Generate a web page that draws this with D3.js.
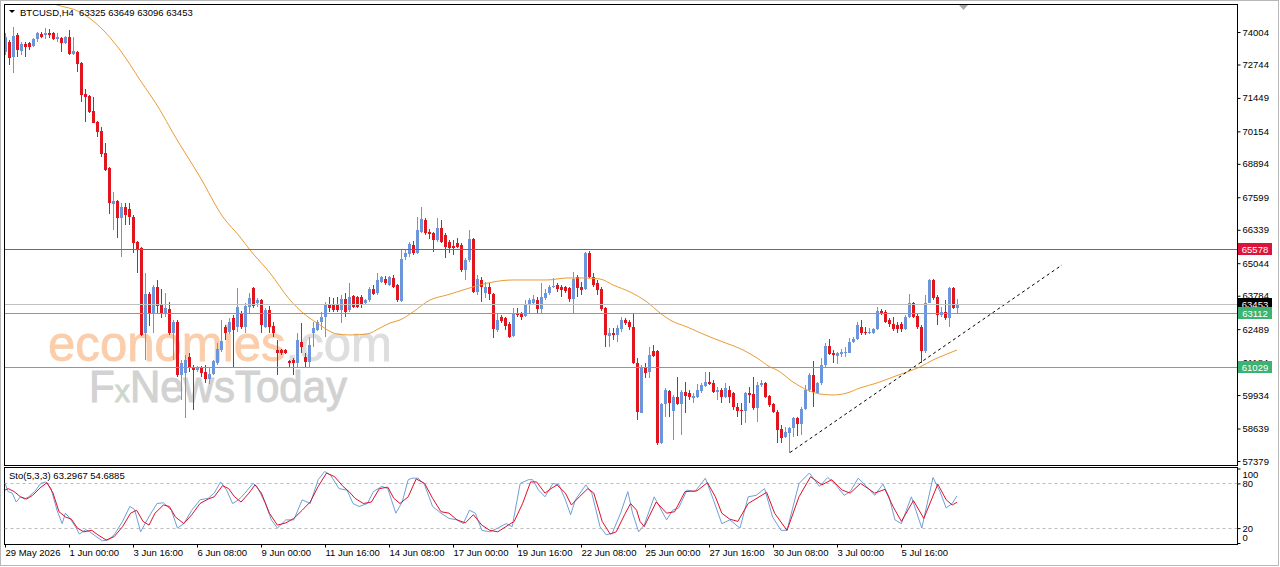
<!DOCTYPE html>
<html lang="en">

<head>
    <meta charset="UTF-8" />
    <title>BTCUSD, H4</title>
    <script src="https://d3js.org/d3.v7.min.js"></script>
    <style>
        body {
            margin: 0;
            background-color: #ffffff;
        }

        svg text {
            font-family: "Liberation Sans", Arial, sans-serif;
        }
    </style>
</head>

<body>
    <svg id="chart" width="1280" height="567"></svg>

    <script>
        // [open, high, low, close] per H4 bar
        const candles = [
            [73229, 73965, 73113, 73810], [73616, 73694, 72725, 72996], [73035, 74198, 72415, 73849], [73888, 73965, 73035, 73306],
            [73268, 73616, 73113, 73539], [73539, 73616, 73035, 73423], [73578, 73616, 73306, 73423], [73461, 73771, 73423, 73733],
            [73733, 74004, 73616, 73965], [73926, 74004, 73771, 73810], [73888, 74159, 73733, 73965], [73965, 74120, 73771, 73888],
            [73965, 74004, 73694, 73733], [73733, 73965, 73616, 73810], [73771, 73810, 73229, 73578], [73578, 73849, 73539, 73810],
            [73810, 74081, 73113, 73151], [73151, 73810, 73113, 73268], [73229, 73268, 72454, 72764], [72803, 72841, 71291, 71563],
            [71601, 71795, 70516, 71485], [71524, 71563, 70865, 70904], [70943, 71485, 70478, 70478], [70516, 70555, 69935, 70129],
            [70168, 70323, 69160, 69277], [69316, 69703, 68616, 68655], [68732, 68771, 66951, 67378], [67339, 67804, 66331, 67455],
            [67455, 67494, 66021, 66796], [66796, 67378, 65285, 67223], [67223, 67378, 66525, 66913], [67145, 67378, 66525, 66835],
            [66835, 66913, 65440, 65828], [65866, 65905, 64665, 65556], [65634, 65673, 62224, 62263], [62340, 64665, 61294, 63851],
            [63851, 63929, 62611, 63116], [63116, 64200, 62340, 64123], [64123, 64394, 63116, 63387], [63426, 64045, 62921, 63116],
            [63116, 63890, 62960, 63309], [63271, 63541, 62263, 62340], [62340, 62844, 61294, 62766], [62766, 62844, 60635, 60713],
            [60713, 61294, 59744, 61178], [60790, 61488, 59046, 61294], [61410, 61565, 60829, 60984], [61023, 61100, 59356, 60906],
            [60906, 61060, 60829, 60984], [60984, 61060, 60635, 60790], [60829, 61100, 60403, 60558], [60558, 60984, 60364, 60751],
            [60751, 61294, 60713, 61255], [61178, 61953, 61100, 61720], [61681, 62844, 61604, 62030], [62573, 62650, 62069, 62340],
            [62379, 62921, 62301, 62766], [62921, 63038, 61023, 62456], [62573, 64084, 62379, 63348], [63116, 63193, 62495, 62573],
            [62573, 63503, 62340, 63387], [63348, 63890, 63116, 63696], [64084, 64123, 63309, 63387], [63503, 63696, 63348, 63619],
            [63619, 63658, 62340, 62650], [62573, 63309, 62534, 63232], [63232, 63387, 62340, 62573], [62611, 62766, 62185, 62340],
            [61681, 62069, 60713, 61565], [61681, 61720, 61488, 61565], [61681, 61720, 61526, 61565], [61255, 61294, 60984, 61178],
            [61294, 61371, 60713, 61178], [61178, 62340, 61023, 62069], [61991, 62728, 61565, 61798], [61410, 61565, 61023, 61216],
            [61216, 62185, 60984, 61875], [62340, 62766, 61798, 62534], [62456, 62844, 62418, 62766], [62766, 63154, 62456, 62960],
            [62960, 63541, 62185, 63464], [63464, 63735, 63154, 63309], [63426, 63696, 63154, 63232], [63426, 63735, 63154, 63232],
            [63232, 63813, 62728, 63658], [63658, 63890, 62960, 63154], [63232, 64278, 63154, 63735], [63774, 63813, 63309, 63348],
            [63735, 63774, 63309, 63348], [63735, 63813, 63309, 63426], [63503, 63658, 63426, 63619], [63619, 64123, 63541, 64045],
            [64045, 64200, 63813, 63851], [63890, 64665, 63813, 64394], [64316, 64549, 64278, 64510], [64433, 64549, 64200, 64278],
            [64200, 64549, 64161, 64510], [64471, 64588, 64084, 64123], [64200, 64239, 63541, 63619], [63580, 65556, 63541, 65208],
            [65285, 65595, 65169, 65440], [65401, 65866, 65285, 65789], [65750, 65905, 65363, 65440], [65440, 66835, 65401, 66331],
            [66254, 67223, 66215, 66758], [66719, 66796, 66138, 66215], [66254, 66370, 65983, 66176], [66215, 66254, 65479, 65944],
            [65944, 66796, 65866, 66409], [66409, 66719, 65828, 65866], [66138, 66215, 65246, 65673], [65866, 65944, 65440, 65634],
            [65711, 65944, 65363, 65634], [65828, 66021, 65634, 65673], [65750, 65828, 64704, 64781], [64781, 65246, 64394, 65169],
            [65169, 66331, 65091, 65983], [65983, 66021, 63890, 63929], [63929, 64588, 63813, 64433], [64394, 64510, 63541, 64123],
            [63890, 64316, 63696, 64123], [64123, 64278, 63619, 63851], [63851, 63890, 62146, 62495], [62456, 63116, 62379, 62844],
            [62960, 63038, 62728, 62805], [62921, 62960, 62456, 62611], [62689, 62766, 62146, 62185], [62224, 63309, 62185, 63116],
            [63116, 63309, 62960, 63038], [63116, 63154, 62844, 62960], [62999, 63619, 62960, 63464], [63464, 63696, 63116, 63619],
            [63503, 63813, 63426, 63658], [63619, 63735, 63116, 63271], [63271, 64278, 63116, 63735], [63696, 64045, 63619, 63890],
            [63890, 64200, 63813, 64123], [64123, 64471, 64084, 64161], [64200, 64278, 63929, 64045], [64123, 64200, 63735, 64006],
            [64123, 64161, 63890, 63968], [64084, 64123, 63541, 63658], [63658, 64704, 63116, 64433], [64510, 64588, 63735, 64084],
            [64123, 64316, 63813, 64006], [64045, 65479, 64006, 65440], [65440, 65518, 64471, 64510], [64510, 64665, 64123, 64200],
            [64278, 64394, 63813, 64006], [64045, 64123, 63193, 63271], [63309, 63348, 61798, 62263], [62224, 62534, 61798, 62340],
            [62340, 62534, 62069, 62263], [62263, 62650, 61991, 62534], [62495, 62960, 62379, 62844], [62844, 62921, 62650, 62728],
            [62766, 62844, 62456, 62573], [62573, 63116, 61139, 61178], [61178, 61371, 58969, 59279], [59240, 61100, 59240, 61023],
            [61023, 61178, 60596, 60790], [60829, 61798, 60596, 61488], [61643, 61875, 61410, 61449], [61643, 61681, 58000, 58078],
            [58078, 59628, 58039, 59589], [59589, 60209, 59085, 60131], [60093, 60131, 59085, 59628], [59318, 59938, 58194, 59860],
            [59860, 60635, 59550, 59589], [59589, 60131, 58388, 60054], [60054, 60441, 59240, 59899], [60015, 60131, 59744, 59860],
            [59821, 60015, 59628, 59899], [59860, 60364, 59821, 60131], [60093, 60403, 60015, 60325], [60286, 60829, 60248, 60441],
            [60441, 60829, 60325, 60364], [60403, 60519, 60015, 60054], [60054, 60248, 59744, 60131], [60131, 60209, 59628, 59860],
            [59860, 60403, 59821, 60209], [60131, 60286, 59628, 59860], [60015, 60054, 59356, 59473], [59473, 59628, 59085, 59318],
            [59356, 59628, 58775, 59318], [59318, 60054, 58853, 60015], [60015, 60248, 59628, 59938], [59976, 60635, 59356, 59434],
            [59434, 60441, 58891, 60325], [60325, 60519, 60248, 60403], [60403, 60441, 59821, 59860], [59899, 59938, 59473, 59550],
            [59589, 59628, 59240, 59279], [59279, 59356, 58078, 58581], [58620, 58775, 58078, 58271], [58310, 58698, 58271, 58504],
            [58465, 58698, 57690, 58659], [58659, 59085, 58310, 59046], [59046, 59085, 58349, 58814], [58814, 59473, 58388, 59395],
            [59395, 60325, 59356, 60131], [60131, 60790, 60054, 60713], [60713, 61255, 59473, 60054], [60015, 60441, 59976, 60403],
            [60403, 61371, 60325, 61100], [61100, 61953, 61023, 61836], [61836, 62108, 61488, 61526], [61565, 61681, 61178, 61488],
            [61449, 61604, 61139, 61565], [61526, 61720, 61410, 61604], [61565, 61798, 61410, 61604], [61565, 62146, 61565, 61991],
            [61991, 62185, 61953, 62108], [62108, 62766, 62069, 62650], [62573, 62844, 62263, 62340], [62379, 62573, 62263, 62340],
            [62340, 62534, 62301, 62379], [62340, 62534, 62301, 62495], [62495, 63348, 62456, 63193], [63193, 63271, 63038, 63116],
            [63154, 63232, 62728, 62766], [62844, 62921, 62573, 62689], [62689, 62960, 62418, 62495], [62650, 62766, 62340, 62495],
            [62689, 62766, 62379, 62495], [62495, 63038, 62456, 62960], [62960, 63851, 62921, 63503], [63503, 63541, 62921, 62960],
            [62999, 63116, 62495, 62573], [62573, 62650, 61178, 61643], [61643, 63813, 61565, 63503], [63503, 64433, 63503, 64394],
            [64394, 64433, 63619, 63696], [63735, 63813, 62650, 63038], [63038, 63348, 62960, 63154], [63154, 63619, 62844, 62921],
            [62921, 64123, 62573, 64084], [64084, 64123, 63271, 63309], [63325, 63649, 63096, 63453]
        ];

        // moving average: [bar, price]
        const maPoints = [
            [10, 75200], [13, 75050], [18.75, 74779], [23.75, 74198], [28.75, 73306], [33.75, 72144], [38.75, 70981],
            [42, 70090], [48.75, 68385], [54.5, 66835], [58.75, 66060], [61.25, 65556], [66.25, 64665], [71.25, 63619],
            [74.5, 63116], [78, 62728], [83, 62301], [86.25, 62263], [90.5, 62301], [93.75, 62534], [96.25, 62728],
            [98.75, 62844], [102, 63154], [106.25, 63619], [110.5, 63813], [114.5, 64006], [118.75, 64200], [122, 64316],
            [127, 64394], [135.5, 64394], [140.5, 64471], [144.5, 64471], [148.75, 64433], [152, 64200], [156.25, 63929],
            [160.5, 63541], [163.75, 63116], [166.25, 62844], [170.5, 62573], [176.25, 62185], [179.5, 61991], [184.5, 61681],
            [188, 61371], [191.25, 61023], [193, 60906], [197, 60441], [200.5, 60131], [203.75, 59976], [207, 59938],
            [210.5, 60015], [213.75, 60209], [218, 60403], [222, 60635], [225.5, 60829], [228.75, 61023], [232, 61294],
            [235.5, 61526], [238, 61681]
        ];

        // Stochastic(5,3,3) main (%K) and signal (%D): [bar, value]
        const stochK = [
            [0, 80], [0.8, 69], [1.8, 67], [2.8, 55], [3.85, 62], [4.9, 59], [5.9, 62], [7.4, 69], [8.95, 80], [10.2, 82],
            [11.5, 73], [13, 44], [14.3, 26], [15.1, 40], [16.1, 34], [17.6, 22], [18.6, 12], [20.2, 18], [21.2, 15], [22.7, 9],
            [24.3, 3], [25.8, 4], [27.3, 11], [29.4, 29], [31.2, 49], [32.4, 45], [33.9, 15], [35, 26], [36.5, 40], [38, 53],
            [39.6, 54], [41.6, 44], [43.1, 20], [44.7, 26], [46.7, 44], [48.75, 58], [50.8, 60], [52.3, 67], [53.9, 82], [55.4, 71],
            [56.9, 53], [58.4, 58], [60, 67], [62, 80], [63, 76], [65.1, 53], [66.6, 31], [68.1, 20], [70.2, 31], [72.2, 31],
            [74.3, 58], [76.3, 53], [78.3, 85], [79.9, 96], [81.4, 91], [83.5, 73], [85.5, 71], [87, 53], [88.5, 49], [90.6, 53],
            [92.1, 69], [94.2, 76], [95.7, 73], [97.7, 40], [99.3, 55], [100.8, 85], [101.8, 87], [103.3, 87], [104.9, 78], [106.9, 49],
            [109, 40], [111, 33], [113, 31], [114.6, 26], [116.1, 44], [117.6, 40], [119.2, 17], [121.2, 15], [123.2, 20], [125.3, 26],
            [126.8, 22], [128.8, 80], [130.9, 85], [131.9, 85], [133.4, 71], [135, 62], [137, 80], [138.5, 78], [140.1, 58], [141.4, 38],
            [142.6, 58], [145.2, 78], [146.7, 67], [148.75, 22], [150.3, 11], [151.8, 13], [153.9, 40], [155.7, 69], [156.9, 40], [158.4, 15],
            [159.8, 24], [162.3, 62], [165.4, 31], [166.9, 44], [168.4, 47], [170.5, 71], [172.5, 69], [175.1, 87], [177.1, 58], [179.2, 26],
            [181.2, 31], [183.75, 20], [185.8, 62], [187.8, 64], [189.9, 73], [191.9, 35], [194, 17], [195.5, 17], [198.5, 80], [201.1, 94],
            [203.6, 76], [205.7, 88], [207.7, 78], [209.8, 64], [211.3, 69], [213.3, 87], [215.4, 76], [217.4, 64], [219.5, 79], [221, 62],
            [222.5, 31], [224.1, 26], [226.6, 62], [229.2, 20], [232, 88], [233.75, 69], [235.3, 47], [236.8, 53], [238, 63.2967]
        ];
        const stochD = [
            [0, 71], [0.8, 73], [2.3, 69], [3.85, 62], [5.4, 59], [6.9, 64], [9, 75], [10.5, 81], [12, 67], [13.5, 42],
            [15.1, 35], [16.6, 32], [18.1, 20], [19.7, 15], [21.7, 17], [23.2, 11], [25.3, 4], [27.3, 8.5], [29.4, 22], [31.4, 40],
            [32.9, 44], [34.5, 29], [36, 24], [37.5, 40], [39.6, 51], [41.1, 49], [42.6, 35], [44.7, 26], [46.7, 38], [48.75, 53],
            [50.8, 59], [52.3, 62], [54.4, 77], [55.9, 73], [57.4, 62], [59, 55], [61, 67], [62.5, 78], [64.1, 67], [66.1, 40],
            [68.1, 24], [70.2, 27], [72.2, 33], [74.3, 44], [76.3, 55], [78.3, 76], [80.4, 94], [82.4, 89], [84.5, 76], [86, 69],
            [87.5, 60], [89.6, 53], [91.6, 55], [93.6, 73], [95.7, 75], [97.2, 60], [98.75, 53], [100.8, 62], [102.8, 86], [104.9, 80],
            [106.9, 60], [109, 42], [111, 40], [113, 31], [115.1, 27], [117.1, 38], [119.2, 24], [121.2, 17], [123.2, 15], [125.8, 24],
            [127.3, 29], [129.4, 53], [131.4, 82], [132.9, 82], [135, 67], [136.5, 73], [138, 78], [140.1, 67], [141.6, 51], [143.6, 62],
            [145.7, 73], [147.2, 67], [149.3, 29], [151.3, 12], [152.8, 15], [154.9, 38], [156.4, 53], [157.9, 44], [158.75, 29], [159.8, 22],
            [162.8, 55], [165.4, 40], [167.4, 42], [170, 69], [173, 70], [175.6, 81], [177.6, 62], [179.2, 40], [181.2, 32], [183.2, 29],
            [185.8, 53], [190.4, 68], [192.4, 40], [195.5, 17], [198.5, 62], [201.4, 89], [204.2, 78], [206.7, 85], [209.3, 71], [211.3, 67],
            [213.9, 80], [217.4, 67], [220, 72], [222, 49], [224.1, 29], [227.1, 57], [229.7, 33], [233.2, 79], [235.3, 58], [236.8, 51],
            [238, 54.6885]
        ];

        const priceTicks = [74004, 72744, 71449, 70154, 68894, 67599, 66339, 65044, 63784, 62489, 61184, 59934, 58639, 57379];
        const stochTicks = [100, 80, 20, 0];
        const stochLevels = [80, 20];
        const dateLabels = ["29 May 2026", "1 Jun 00:00", "3 Jun 16:00", "6 Jun 08:00", "9 Jun 00:00", "11 Jun 16:00",
            "14 Jun 08:00", "17 Jun 00:00", "19 Jun 16:00", "22 Jun 08:00", "25 Jun 00:00", "27 Jun 16:00",
            "30 Jun 08:00", "3 Jul 00:00", "5 Jul 16:00"];
        const dateBars = [0, 16, 32, 48, 64, 80, 96, 112, 128, 144, 160, 176, 192, 208, 224];
        const resistance = 65578;
        const supports = [63112, 61029];
        const lastPrice = 63453;
        const trendLine = [[196.25, 57709], [264.25, 64975]];
        const header = { symbol: "BTCUSD,H4", ohlc: [63325, 63649, 63096, 63453] };

        const bullColor = "#6b96dc";
        const bearColor = "#e0151d";

        const svg = d3.select("#chart");
        const panel = { left: 4.5, right: 1237.5, top: 4.5, bottom: 465.5, subTop: 467.5, subBottom: 544.5 };

        const x = d3.scaleLinear().domain([0, 238]).range([5, 957]);
        const y = d3.scaleLinear().domain([57379, 74004]).range([461, 32]);
        const ys = d3.scaleLinear().domain([0, 100]).range([543, 468.5]);

        const defs = svg.append("defs");
        defs.append("clipPath").attr("id", "clip-main").append("rect")
            .attr("x", panel.left).attr("y", panel.top)
            .attr("width", panel.right - panel.left).attr("height", panel.bottom - panel.top);
        defs.append("clipPath").attr("id", "clip-sub").append("rect")
            .attr("x", panel.left).attr("y", panel.subTop)
            .attr("width", panel.right - panel.left).attr("height", panel.subBottom - panel.subTop);

        // outer frame
        svg.append("rect").attr("x", 0.5).attr("y", 0.5).attr("width", 1278).attr("height", 565)
            .attr("fill", "#fff").attr("stroke", "#b8b8b8");

        // watermark
        const wm = svg.append("g");
        const wm1 = wm.append("text").attr("x", 48).attr("y", 361)
            .attr("font-size", 50).attr("textLength", 344).attr("lengthAdjust", "spacingAndGlyphs");
        wm1.append("tspan").attr("fill", "#fbcdaa").attr("stroke", "#fbcdaa").attr("stroke-width", 0.8).text("economies");
        wm1.append("tspan").attr("fill", "#dedede").attr("stroke", "#dedede").attr("stroke-width", 0.8).text(".com");
        const wm2 = wm.append("text").attr("x", 89).attr("y", 402)
            .attr("font-size", 44).attr("textLength", 258).attr("lengthAdjust", "spacingAndGlyphs")
            .attr("stroke-width", 1);
        wm2.append("tspan").attr("fill", "#d2d2d2").attr("stroke", "#d2d2d2").text("F");
        wm2.append("tspan").attr("fill", "#cdd8cd").attr("stroke", "#cdd8cd").attr("font-size", 32).text("x");
        wm2.append("tspan").attr("fill", "#d2d2d2").attr("stroke", "#d2d2d2").text("NewsToday");

        const plot = svg.append("g").attr("clip-path", "url(#clip-main)");

        // candles
        const bars = candles.map((c, i) => ({ i, o: c[0], h: c[1], l: c[2], c: c[3] }));
        const candleG = plot.append("g").attr("shape-rendering", "crispEdges");
        candleG.selectAll(".wick")
            .data(bars)
            .enter().append("line")
            .attr("class", "wick")
            .attr("x1", d => Math.round(x(d.i)) + 0.5)
            .attr("x2", d => Math.round(x(d.i)) + 0.5)
            .attr("y1", d => y(d.h))
            .attr("y2", d => y(d.l))
            .attr("stroke", d => d.c >= d.o ? bullColor : bearColor);
        candleG.selectAll(".body")
            .data(bars)
            .enter().append("rect")
            .attr("class", "body")
            .attr("x", d => Math.round(x(d.i)) - 1)
            .attr("width", 3)
            .attr("y", d => y(Math.max(d.o, d.c)))
            .attr("height", d => Math.max(1, Math.abs(y(d.o) - y(d.c))))
            .attr("fill", d => d.c >= d.o ? bullColor : bearColor);

        // moving average
        plot.append("path")
            .datum(maPoints)
            .attr("fill", "none")
            .attr("stroke", "#e99b35")
            .attr("stroke-width", 1)
            .attr("d", d3.line().x(d => x(d[0])).y(d => y(d[1])).curve(d3.curveMonotoneX));

        // trend line
        plot.append("line")
            .attr("x1", x(trendLine[0][0])).attr("y1", y(trendLine[0][1]))
            .attr("x2", x(trendLine[1][0])).attr("y2", y(trendLine[1][1]))
            .attr("stroke", "#000").attr("stroke-width", 1).attr("stroke-dasharray", "3,3");

        // panel borders
        svg.append("rect")
            .attr("x", panel.left).attr("y", panel.top)
            .attr("width", panel.right - panel.left).attr("height", panel.bottom - panel.top)
            .attr("fill", "none").attr("stroke", "#000");
        svg.append("rect")
            .attr("x", panel.left).attr("y", panel.subTop)
            .attr("width", panel.right - panel.left).attr("height", panel.subBottom - panel.subTop)
            .attr("fill", "none").attr("stroke", "#000");

        // horizontal levels
        const levels = [
            { v: lastPrice, color: "#c0c0c0" },
            { v: resistance, color: "#e8305c" },
            ...supports.map(v => ({ v, color: "#43c47e" }))
        ];
        svg.append("g").attr("shape-rendering", "crispEdges")
            .selectAll(".level")
            .data(levels)
            .enter().append("line")
            .attr("class", "level")
            .attr("x1", panel.left + 0.5)
            .attr("x2", panel.right - 0.5)
            .attr("y1", d => Math.round(y(d.v)) + 0.5)
            .attr("y2", d => Math.round(y(d.v)) + 0.5)
            .attr("stroke", d => d.color)
            .attr("stroke-width", 1);

        // chart shift marker
        svg.append("path").attr("d", "M959,5L968,5L963.5,10Z").attr("fill", "#a8a8a8");

        // header
        svg.append("path").attr("d", "M9,10L15,10L12,13Z").attr("fill", "#000");
        svg.append("text").attr("x", 20).attr("y", 16)
            .attr("font-size", 9.5).attr("fill", "#000").style("white-space", "pre")
            .text(`${header.symbol}  ${header.ohlc.join(" ")}`);

        // price axis
        svg.append("g")
            .attr("transform", `translate(${panel.right},0)`)
            .call(d3.axisRight(y).tickValues(priceTicks).tickSize(3).tickFormat(d3.format("d")))
            .call(g => g.select(".domain").remove())
            .call(g => g.selectAll("line").attr("stroke", "#000"))
            .call(g => g.selectAll("text").attr("x", 5).attr("font-size", 9.5).attr("fill", "#000")
                .style("font-family", "'Liberation Sans', Arial, sans-serif"));

        // price tags
        const tag = (v, bg) => {
            const yy = Math.round(y(v));
            svg.append("rect").attr("x", panel.right + 0.5).attr("y", yy - 6)
                .attr("width", 34).attr("height", 12).attr("fill", bg);
            svg.append("text").attr("x", panel.right + 17.5).attr("y", yy + 3.5)
                .attr("text-anchor", "middle").attr("font-size", 9.5).attr("fill", "#fff").text(v);
        };
        tag(lastPrice, "#000");
        supports.forEach(v => tag(v, "#3cb371"));
        tag(resistance, "#dc143c");

        // stochastic sub-window
        const sub = svg.append("g").attr("clip-path", "url(#clip-sub)");
        stochLevels.forEach(v => {
            sub.append("line")
                .attr("x1", panel.left).attr("x2", panel.right)
                .attr("y1", Math.round(ys(v)) + 0.5).attr("y2", Math.round(ys(v)) + 0.5)
                .attr("stroke", "#bdbdbd").attr("stroke-dasharray", "3,3");
        });
        const sline = d3.line().x(d => x(d[0])).y(d => ys(d[1]));
        sub.append("path").datum(stochK)
            .attr("fill", "none").attr("stroke", "#6f9fd8").attr("stroke-width", 1).attr("d", sline);
        sub.append("path").datum(stochD)
            .attr("fill", "none").attr("stroke", "#dd1028").attr("stroke-width", 1).attr("d", sline);

        const lastK = stochK[stochK.length - 1][1];
        const lastD = stochD[stochD.length - 1][1];
        svg.append("text").attr("x", 9).attr("y", 479)
            .attr("font-size", 9.5).attr("fill", "#000")
            .text(`Sto(5,3,3) ${lastK.toFixed(4)} ${lastD.toFixed(4)}`);

        svg.append("g")
            .attr("transform", `translate(${panel.right},0)`)
            .call(d3.axisRight(ys).tickValues(stochTicks).tickSize(3))
            .call(g => g.select(".domain").remove())
            .call(g => g.selectAll("line").attr("stroke", "#000"))
            .call(g => g.selectAll("text").attr("x", 5).attr("font-size", 9.5).attr("fill", "#000")
                .style("font-family", "'Liberation Sans', Arial, sans-serif")
                .attr("dy", d => d === 100 ? "0.9em" : d === 0 ? "-0.3em" : "0.32em"));

        // time axis
        svg.append("g")
            .attr("transform", `translate(0,${panel.subBottom})`)
            .call(d3.axisBottom(x).tickValues(dateBars).tickSize(3).tickFormat((d, i) => dateLabels[i]))
            .call(g => g.select(".domain").remove())
            .call(g => g.selectAll("line").attr("stroke", "#000"))
            .call(g => g.selectAll("text").attr("text-anchor", "start").attr("x", 0).attr("y", 5)
                .attr("font-size", 9.5).attr("fill", "#000")
                .style("font-family", "'Liberation Sans', Arial, sans-serif"));
    </script>

</body>

</html>
